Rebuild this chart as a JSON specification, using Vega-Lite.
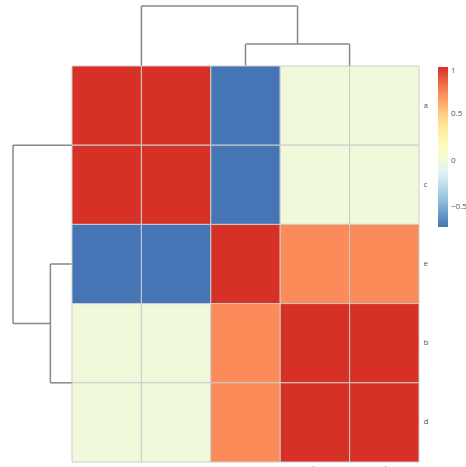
{
  "$schema": "https://vega.github.io/schema/vega-lite/v6.json",
  "background": "white",
  "padding": {"left": 12, "top": 5, "right": 0, "bottom": 0},
  "config": {
    "view": {"stroke": null},
    "font": "Open Sans",
    "axis": {"labelFont": "Open Sans", "labelColor": "#555555", "labelFontSize": 8, "ticks": false, "domain": false, "grid": false, "title": null},
    "legend": {"labelFont": "Open Sans"}
  },
  "datasets": {
    "cells": [
      {"row": "a", "col": "a", "value": 1.0},
      {"row": "a", "col": "c", "value": 1.0},
      {"row": "a", "col": "e", "value": -0.71},
      {"row": "a", "col": "b", "value": 0.01},
      {"row": "a", "col": "d", "value": 0.01},
      {"row": "c", "col": "a", "value": 1.0},
      {"row": "c", "col": "c", "value": 1.0},
      {"row": "c", "col": "e", "value": -0.71},
      {"row": "c", "col": "b", "value": 0.01},
      {"row": "c", "col": "d", "value": 0.01},
      {"row": "e", "col": "a", "value": -0.71},
      {"row": "e", "col": "c", "value": -0.71},
      {"row": "e", "col": "e", "value": 1.0},
      {"row": "e", "col": "b", "value": 0.72},
      {"row": "e", "col": "d", "value": 0.72},
      {"row": "b", "col": "a", "value": 0.01},
      {"row": "b", "col": "c", "value": 0.01},
      {"row": "b", "col": "e", "value": 0.72},
      {"row": "b", "col": "b", "value": 1.0},
      {"row": "b", "col": "d", "value": 1.0},
      {"row": "d", "col": "a", "value": 0.01},
      {"row": "d", "col": "c", "value": 0.01},
      {"row": "d", "col": "e", "value": 0.72},
      {"row": "d", "col": "b", "value": 1.0},
      {"row": "d", "col": "d", "value": 1.0}
    ],
    "tree": [
      {"pos": 1.0, "pos2": 1.0, "dist": 0, "dist2": 1.5},
      {"pos": 3.25, "pos2": 3.25, "dist": 0.55, "dist2": 1.5},
      {"pos": 1.0, "pos2": 3.25, "dist": 1.5, "dist2": 1.5},
      {"pos": 2.5, "pos2": 2.5, "dist": 0, "dist2": 0.55},
      {"pos": 4.0, "pos2": 4.0, "dist": 0, "dist2": 0.55},
      {"pos": 2.5, "pos2": 4.0, "dist": 0.55, "dist2": 0.55}
    ]
  },
  "columns": 2,
  "align": "each",
  "bounds": "flush",
  "spacing": 0,
  "concat": [
    {
      "width": 59,
      "height": 60,
      "data": {"values": [{}]},
      "mark": {"type": "point", "opacity": 0},
      "encoding": {}
    },
    {
      "width": 347,
      "height": 60,
      "data": {"name": "tree"},
      "mark": {"type": "rule", "stroke": "#888888", "strokeWidth": 1.5},
      "encoding": {
        "x": {"field": "pos", "type": "quantitative", "scale": {"domain": [0, 5], "nice": false, "zero": false}, "axis": null},
        "x2": {"field": "pos2"},
        "y": {"field": "dist", "type": "quantitative", "scale": {"domain": [0, 1.5], "nice": false}, "axis": null},
        "y2": {"field": "dist2"}
      }
    },
    {
      "width": 59,
      "height": 396,
      "data": {"name": "tree"},
      "mark": {"type": "rule", "stroke": "#888888", "strokeWidth": 1.5},
      "encoding": {
        "y": {"field": "pos", "type": "quantitative", "scale": {"domain": [0, 5], "nice": false, "zero": false, "reverse": true}, "axis": null},
        "y2": {"field": "pos2"},
        "x": {"field": "dist", "type": "quantitative", "scale": {"domain": [0, 1.5], "nice": false, "reverse": true}, "axis": null},
        "x2": {"field": "dist2"}
      }
    },
    {
      "width": 347,
      "height": 396,
      "data": {"name": "cells"},
      "mark": {"type": "rect", "stroke": "#cccccc", "strokeWidth": 1},
      "encoding": {
        "x": {"field": "col", "type": "nominal", "sort": ["a", "c", "e", "b", "d"], "scale": {"paddingInner": 0, "paddingOuter": 0}, "axis": {"orient": "bottom", "labelAngle": 0, "labelPadding": 2}},
        "y": {"field": "row", "type": "nominal", "sort": ["a", "c", "e", "b", "d"], "scale": {"paddingInner": 0, "paddingOuter": 0}, "axis": {"orient": "right", "labelPadding": 4}},
        "color": {
          "field": "value",
          "type": "quantitative",
          "scale": {
            "type": "linear",
            "interpolate": "rgb",
            "domain": [-0.71, -0.425, -0.14, 0.145, 0.43, 0.715, 1.0],
            "range": ["#4575b4", "#91bfdb", "#e0f3f8", "#ffffbf", "#fee090", "#fc8d59", "#d73027"]
          },
          "legend": {
            "title": null,
            "orient": "none",
            "legendX": 425,
            "legendY": 61,
            "direction": "vertical",
            "gradientLength": 160,
            "gradientThickness": 10,
            "gradientStrokeWidth": 0,
            "values": [-0.5, 0, 0.5, 1],
            "format": "~g",
            "labelFontSize": 8,
            "labelColor": "#555555",
            "labelOffset": 3
          }
        }
      }
    }
  ]
}
